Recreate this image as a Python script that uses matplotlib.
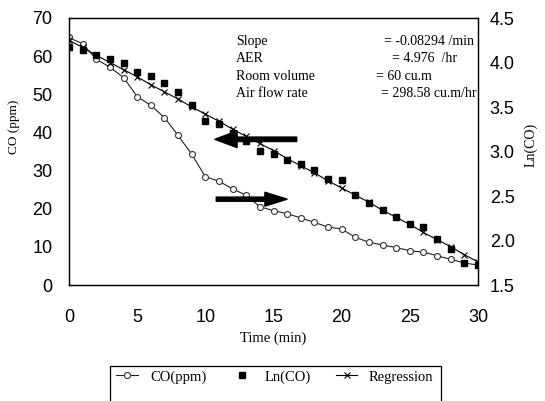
import matplotlib
matplotlib.use('Agg')

import matplotlib.pyplot as plt
from matplotlib.patches import Rectangle

# minute readings
time_min = list(range(31))
co_ppm = [64.9, 63.2, 59.2, 57.1, 54.4, 49.4, 47.1, 43.9, 39.2, 34.3, 28.4,
          27.2, 25.2, 23.5, 20.5, 19.5, 18.7, 17.6, 16.4, 15.2, 14.7,
          12.5, 11.2, 10.5, 9.8, 9.0, 8.6, 7.7, 6.7, 5.8, 5.2]
ln_co = [4.17, 4.14, 4.08, 4.035, 3.99, 3.89, 3.85, 3.775, 3.665, 3.52, 3.34,
         3.305, 3.21, 3.12, 3.01, 2.97, 2.91, 2.86, 2.79, 2.69, 2.675,
         2.515, 2.42, 2.345, 2.265, 2.185, 2.15, 2.02, 1.90, 1.75, 1.725]
regression = [4.25, 4.17, 4.08, 4.00, 3.92, 3.84, 3.75, 3.67, 3.59, 3.50, 3.42,
              3.34, 3.25, 3.17, 3.09, 3.01, 2.92, 2.84, 2.76, 2.67, 2.59,
              2.51, 2.43, 2.34, 2.26, 2.18, 2.09, 2.01, 1.93, 1.84, 1.76]

info_names = ['Slope', 'AER', 'Room volume', 'Air flow rate']
info_values = ['= -0.08294 /min', '= 4.976  /hr', '= 60 cu.m', '= 298.58 cu.m/hr']

W, H = 545, 401
SANS = 'Liberation Sans'
SERIF = 'Liberation Serif'


def fx(px):
    return px / W


def fy(py):
    return 1 - py / H


fig = plt.figure(figsize=(W / 100, H / 100), dpi=100)
ax = fig.add_axes([fx(69), fy(285), fx(478) - fx(69), fy(18) - fy(285)])
ax2 = ax.twinx()

co_line, = ax.plot(time_min, co_ppm, color='#222222', lw=0.8, marker='o',
                   ms=4.3, mfc='white', mec='#333333', mew=0.8, label='CO(ppm)')
ln_pts, = ax2.plot(time_min, ln_co, ls='none', marker='s', ms=4.5,
                   color='black', label='Ln(CO)')
reg_line, = ax2.plot(time_min, regression, color='black', lw=0.8, marker='x',
                     ms=5, mew=0.8, label='Regression')

ax.set_xlim(0, 30)
ax.set_ylim(0, 70)
ax2.set_ylim(1.5, 4.5)
ax.set_xticks(range(0, 31, 5))
ax.set_yticks(range(0, 71, 10))
ax2.set_yticks([1.5, 2.0, 2.5, 3.0, 3.5, 4.0, 4.5])
ax2.set_yticklabels(['1.5', '2.0', '2.5', '3.0', '3.5', '4.0', '4.5'])

ax.tick_params(axis='x', length=0, pad=17, labelsize=13)
ax.tick_params(axis='y', length=0, pad=12, labelsize=13)
ax2.tick_params(axis='y', length=0, pad=8.5, labelsize=13)
for a in (ax, ax2):
    for lab in a.get_xticklabels() + a.get_yticklabels():
        lab.set_fontfamily(SANS)
    for sp in a.spines.values():
        sp.set_linewidth(0.9)

# arrows pointing to each axis
ax.annotate('', xy=(10.7, 38.2), xytext=(16.7, 38.2),
            arrowprops=dict(arrowstyle='simple,head_length=1.6,head_width=1.2,tail_width=0.32',
                            color='black', mutation_scale=10, shrinkA=0, shrinkB=0))
ax.annotate('', xy=(16.0, 22.5), xytext=(10.8, 22.5),
            arrowprops=dict(arrowstyle='simple,head_length=1.6,head_width=1.0,tail_width=0.3',
                            color='black', mutation_scale=10, shrinkA=0, shrinkB=0))

value_x = [384, 392, 376, 381]
for i, (name, val) in enumerate(zip(info_names, info_values)):
    yy = 41.7 + i * 17.3
    fig.text(fx(236), fy(yy), name, family=SERIF, fontsize=10, va='center')
    fig.text(fx(value_x[i]), fy(yy), val, family=SERIF, fontsize=10, va='center')

fig.text(fx(14), fy(127), 'CO (ppm)', family=SERIF, fontsize=9.5,
         rotation=90, ha='center', va='center')
fig.text(fx(531), fy(145), 'Ln(CO)', family=SERIF, fontsize=10,
         rotation=90, ha='center', va='center')
fig.text(fx(273), fy(338), 'Time (min)', family=SERIF, fontsize=10.5,
         ha='center', va='center')

# legend box runs off the bottom edge
fig.patches.append(Rectangle((fx(110), fy(420)), fx(441) - fx(110), fy(366) - fy(420),
                             transform=fig.transFigure, fill=False,
                             edgecolor='black', lw=0.9))
leg = fig.legend(handles=[co_line, ln_pts, reg_line], loc='center',
                 bbox_to_anchor=(fx(275), fy(377)), ncol=3, frameon=False,
                 numpoints=1, handlelength=1.5, handletextpad=0.8,
                 columnspacing=1.7, prop={'family': SERIF, 'size': 10.5})

fig.savefig('out.png', dpi=100)
